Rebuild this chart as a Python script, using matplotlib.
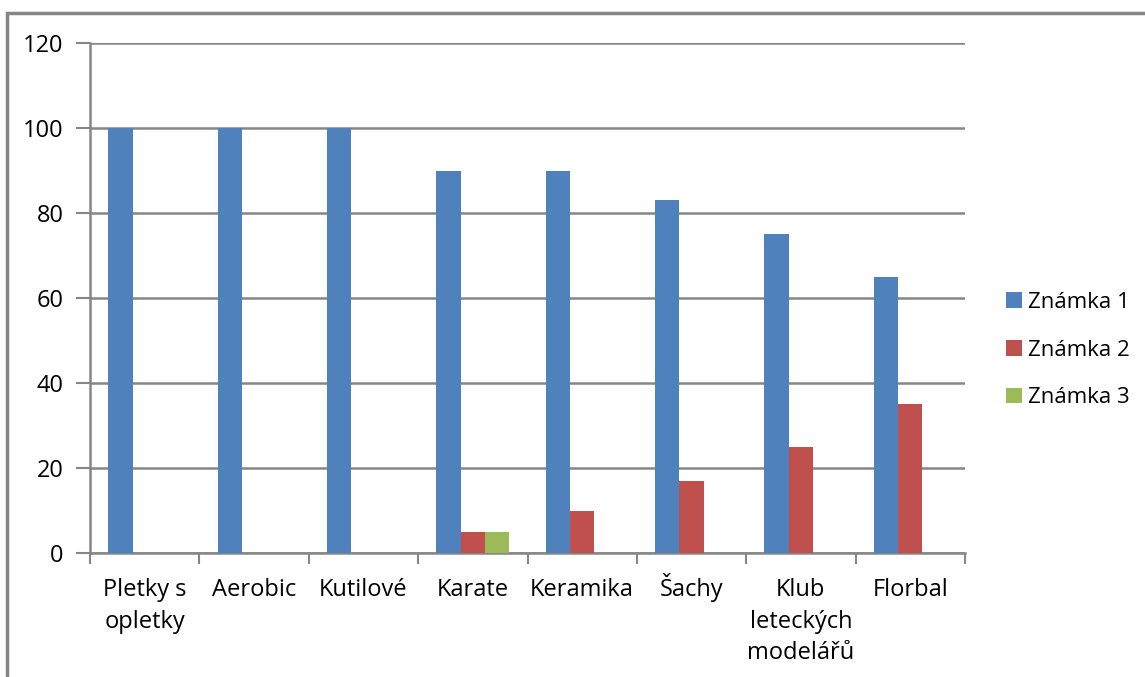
import numpy as np
import matplotlib.pyplot as plt
from matplotlib.patches import Rectangle

categories = ["Pletky s\nopletky", "Aerobic", "Kutilové", "Karate", "Keramika",
              "Šachy", "Klub\nleteckých\nmodelářů", "Florbal"]
znamka1 = [100, 100, 100, 90, 90, 83, 75, 65]
znamka2 = [0, 0, 0, 5, 10, 17, 25, 35]
znamka3 = [0, 0, 0, 5, 0, 0, 0, 0]
series_names = ["Známka 1", "Známka 2", "Známka 3"]
colors = ["#4F81BD", "#C0504D", "#9BBB59"]

plt.rcParams["font.family"] = ["Open Sans", "DejaVu Sans"]

W, H = 1145, 677
fig = plt.figure(figsize=(W / 100, H / 100), dpi=100)
ax = fig.add_axes([90 / W, 1 - 553 / H, (965 - 90) / W, (553 - 43) / H])

x = np.arange(len(categories))
bw = 1 / 4.5
for i, (vals, name, c) in enumerate(zip([znamka1, znamka2, znamka3], series_names, colors)):
    ax.bar(x + (i - 1) * bw, vals, width=bw, color=c, label=name, zorder=3)

ax.set_xlim(-0.5, len(categories) - 0.5)
ax.set_ylim(0, 120)
ax.set_yticks(range(0, 121, 20))
ax.yaxis.grid(True, color="#868686", linewidth=1.8, zorder=0)
ax.set_xticks(x)
ax.set_xticklabels([])
# category labels: one text per line so every first line sits on the same baseline
for xi, lab in zip(x, categories):
    for k, line in enumerate(lab.split("\n")):
        ax.annotate(line, (xi, 0), xycoords=("data", "axes fraction"),
                    xytext=(0, -(43 + 31.5 * k) * 0.72), textcoords="offset points",
                    ha="center", va="baseline", fontsize=17)
ax.tick_params(axis="x", length=0)
ax.set_xticks(np.arange(len(categories) + 1) - 0.5, minor=True)
ax.tick_params(axis="x", which="minor", length=8, width=1.5, color="#868686")
ax.tick_params(axis="y", length=10, width=1.5, color="#868686", labelsize=17, pad=9)
for s in ["top", "right"]:
    ax.spines[s].set_visible(False)
for s in ["left", "bottom"]:
    ax.spines[s].set_color("#868686")
    ax.spines[s].set_linewidth(1.8)

leg = fig.legend(loc="center left", bbox_to_anchor=(986 / W, 1 - 350 / H), frameon=False,
                 fontsize=16, handlelength=0.7, handleheight=0.7, handletextpad=0.3,
                 labelspacing=1.2)

fig.add_artist(Rectangle((7 / W, -0.1), 1.2, 1 - 13 / H + 0.1, transform=fig.transFigure,
                         fill=False, edgecolor="#868686", linewidth=2.5))

fig.savefig("out.png", dpi=100)
